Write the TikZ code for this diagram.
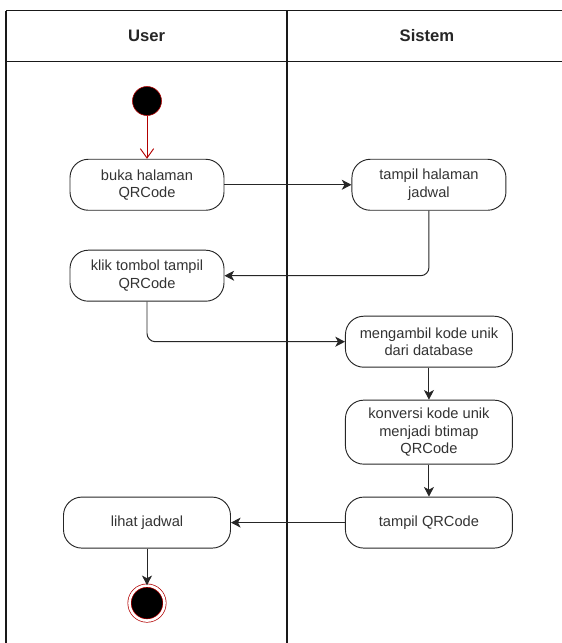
\documentclass[tikz,border=0pt]{standalone}
\usepackage{fontspec}
\setmainfont{Liberation Sans}
\usetikzlibrary{arrows.meta, positioning}
\definecolor{startred}{HTML}{B20000}
\definecolor{textgray}{HTML}{333333}
\newcommand{\actfont}{\fontsize{12.5}{14.8}\selectfont}
\newcommand{\headfont}{\fontsize{14.2}{16}\selectfont\bfseries}
\tikzset{
  action/.style={
    rectangle, rounded corners=0.55cm, draw=black!85, line width=0.8pt,
    minimum width=#1, minimum height=1.53cm, inner sep=0pt,
    align=center, font=\actfont, text=textgray
  },
  action/.default=4.62cm,
  lane/.style={draw=black!90, line width=1.1pt},
  flow/.style={-{Stealth[length=0.29cm, width=0.3cm, inset=0.08cm]},
    line width=0.85pt, draw=black!85},
  initflow/.style={-{Straight Barb[length=0.28cm, width=0.4cm]},
    line width=0.8pt, draw=startred},
  initnode/.style={circle, fill=black, draw=startred, line width=0.5pt,
    minimum size=0.87cm, inner sep=0pt},
  finalnode/.style={circle, fill=black, draw=startred, double=white,
    double distance=0.078cm, line width=0.6pt, minimum size=1.05cm,
    inner sep=0pt}
}
\begin{document}
\begin{tikzpicture}[x=0.03cm, y=-0.03cm]
  \useasboundingbox (0,0) rectangle (562,643);
  % swimlanes
  \draw[lane] (6,10.5) -- (562,10.5);
  \draw[lane] (6,61.5) -- (562,61.5);
  \draw[lane] (6,10.5) -- (6,643);
  \draw[lane] (287,10.5) -- (287,643);
  \node[font=\headfont, text=black!85] (huser) at (146.5,36) {User};
  \node[font=\headfont, text=black!85] (hsis) at (427,36) {Sistem};
  % User lane
  \node[initnode] (init) at (147,101) {};
  \node[action, below=1.29cm of init] (buka)
    {buka halaman\\QRCode};
  \node[action, below=1.17cm of buka] (klik)
    {klik tombol tampil\\QRCode};
  % Sistem lane
  \node[action, right=3.81cm of buka] (halaman)
    {tampil halaman\\jadwal};
  \node[action=5.01cm, below=3.15cm of halaman] (ambil)
    {mengambil kode unik\\dari database};
  \node[action=5.01cm, minimum height=1.92cm,
        below=0.96cm of ambil] (konversi)
    {konversi kode unik\\menjadi btimap\\QRCode};
  \node[action=5.01cm, below=0.96cm of konversi] (qr)
    {tampil QRCode};
  \node[action=5.01cm, left=3.42cm of qr] (lihat)
    {lihat jadwal};
  \node[finalnode, below=1.1cm of lihat] (final) {};
  % flows
  \draw[initflow] (init) -- (buka);
  \draw[flow, rounded corners=0.25cm] (halaman.south) |- (klik.east);
  \draw[flow, rounded corners=0.25cm] (klik.south) |- (ambil.west);
  \foreach \a/\b in {buka/halaman, ambil/konversi, konversi/qr,
                     qr/lihat, lihat/final}{%
    \draw[flow] (\a) -- (\b);}
\end{tikzpicture}
\end{document}
